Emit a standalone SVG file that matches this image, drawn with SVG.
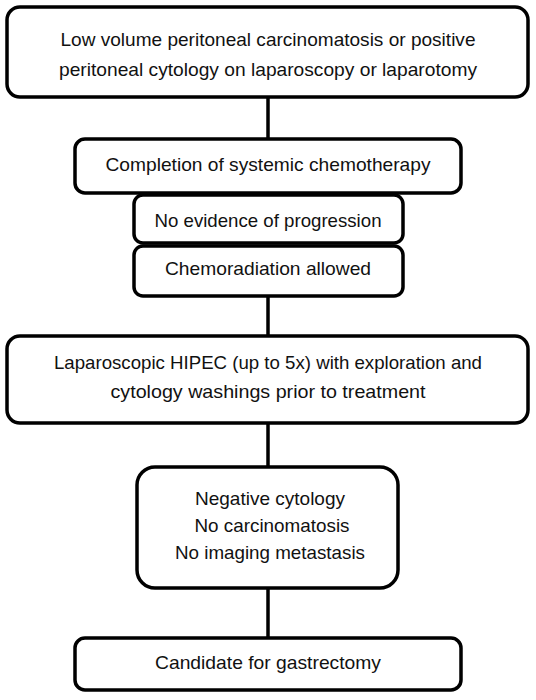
<svg xmlns="http://www.w3.org/2000/svg" width="536" height="700" viewBox="0 0 536 700">
<style>
.box{fill:#fff;stroke:#000;stroke-width:3.5}
.t{font-family:"Liberation Sans",Arial,sans-serif;font-size:18.5px;fill:#111;text-anchor:middle}
.c{stroke:#000;stroke-width:3.5;fill:none}
</style>
<rect width="536" height="700" fill="#fff"/>
<g id="connectors">
<line class="c" x1="268" y1="97" x2="268" y2="139"/>
<line class="c" x1="268" y1="296" x2="268" y2="336"/>
<line class="c" x1="268" y1="423" x2="268" y2="467"/>
<line class="c" x1="268" y1="588" x2="268" y2="638"/>
</g>
<g id="n1">
<rect class="box" x="7" y="7" width="521" height="90" rx="13"/>
<text class="t" x="268" y="46" textLength="415" lengthAdjust="spacingAndGlyphs">Low volume peritoneal carcinomatosis or positive</text>
<text class="t" x="268" y="76" textLength="418" lengthAdjust="spacingAndGlyphs">peritoneal cytology on laparoscopy or laparotomy</text>
</g>
<g id="n2">
<rect class="box" x="75" y="139" width="386" height="54" rx="10"/>
<text class="t" x="268" y="171" textLength="325" lengthAdjust="spacingAndGlyphs">Completion of systemic chemotherapy</text>
</g>
<g id="n3">
<rect class="box" x="134" y="195" width="269" height="48" rx="9"/>
<text class="t" x="268" y="227" textLength="227" lengthAdjust="spacingAndGlyphs">No evidence of progression</text>
</g>
<g id="n4">
<rect class="box" x="134" y="246" width="269" height="50" rx="9"/>
<text class="t" x="268" y="275" textLength="206" lengthAdjust="spacingAndGlyphs">Chemoradiation allowed</text>
</g>
<g id="n5">
<rect class="box" x="7" y="336" width="521" height="87" rx="13"/>
<text class="t" x="268" y="369" textLength="428" lengthAdjust="spacingAndGlyphs">Laparoscopic HIPEC (up to 5x) with exploration and</text>
<text class="t" x="268" y="398" textLength="315" lengthAdjust="spacingAndGlyphs">cytology washings prior to treatment</text>
</g>
<g id="n6">
<rect class="box" x="137" y="467" width="261" height="121" rx="18"/>
<text class="t" x="270" y="505" textLength="150" lengthAdjust="spacingAndGlyphs">Negative cytology</text>
<text class="t" x="272" y="532" textLength="155" lengthAdjust="spacingAndGlyphs">No carcinomatosis</text>
<text class="t" x="270" y="559" textLength="190" lengthAdjust="spacingAndGlyphs">No imaging metastasis</text>
</g>
<g id="n7">
<rect class="box" x="75" y="638" width="386" height="52" rx="10"/>
<text class="t" x="268" y="669" textLength="226" lengthAdjust="spacingAndGlyphs">Candidate for gastrectomy</text>
</g>
</svg>
